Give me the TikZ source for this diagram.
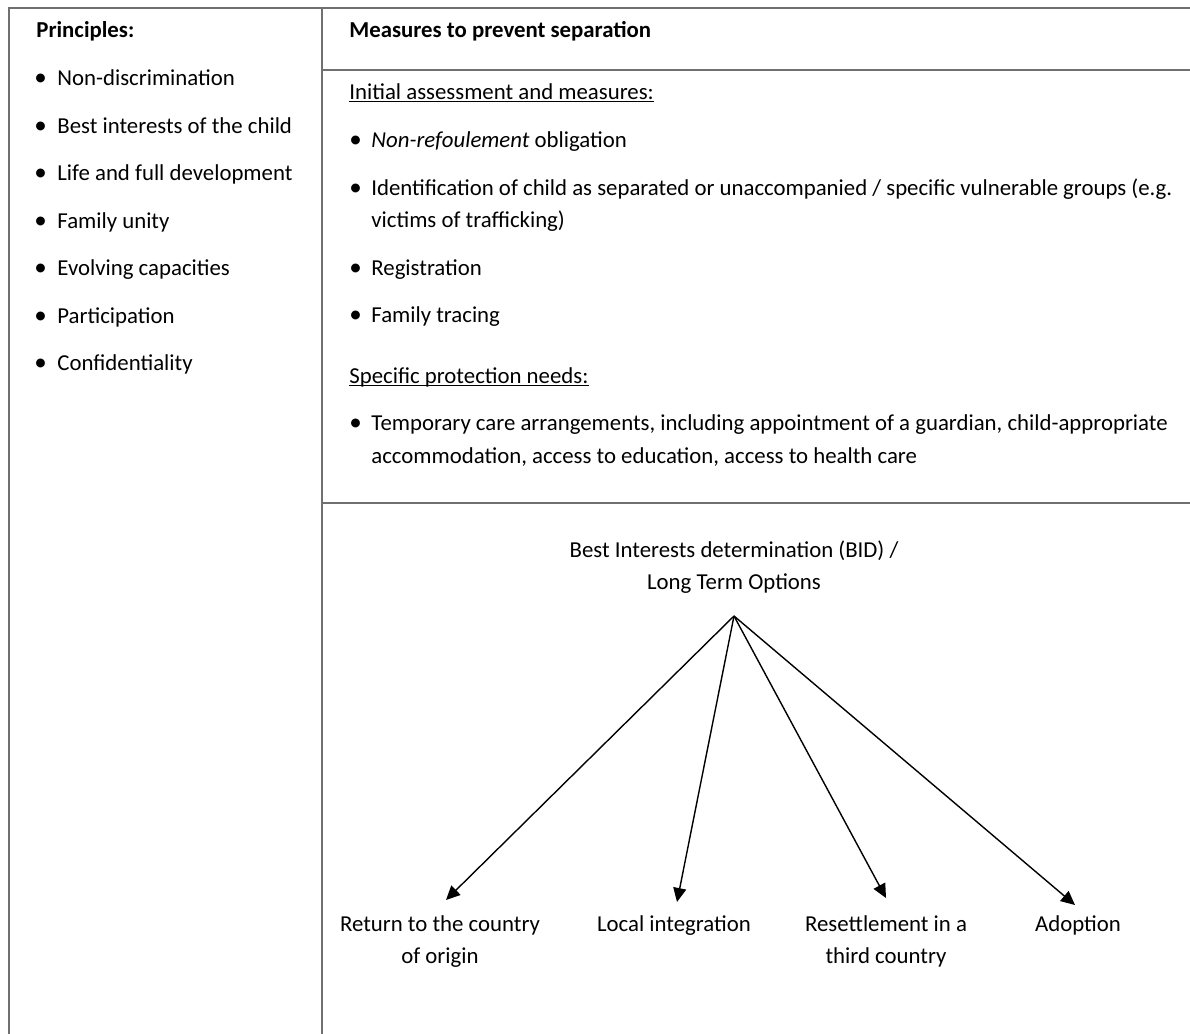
\documentclass[tikz,border=0pt]{standalone}
\usepackage{fontspec}
\setmainfont{Carlito}
\usetikzlibrary{arrows.meta}
\definecolor{rulegray}{RGB}{112,112,112}
\begin{document}
\begin{tikzpicture}[x=0.5pt,y=-0.5pt,
  txt/.style={inner sep=0pt, anchor=base west, font=\fontsize{11.4}{16}\selectfont},
  ctxt/.style={inner sep=0pt, anchor=base, font=\fontsize{11.4}{16}\selectfont},
  bul/.style={inner sep=0pt, anchor=base west, font=\fontsize{12.5}{16}\selectfont},
  tablerule/.style={draw=rulegray, line width=0.75pt},
  uline/.style={draw=black, line width=0.45pt},
  arr/.style={draw=black, line width=0.7pt, -{Triangle[length=7pt,width=6.5pt]}}]
\useasboundingbox (0,0) rectangle (1190,1034);
% table rules
\draw[tablerule] (9,1034) -- (9,8) -- (1190,8);
\draw[tablerule] (322,8) -- (322,1034);
\draw[tablerule] (322,70) -- (1190,70);
\draw[tablerule] (322,503) -- (1190,503);
% left column
\node[txt] (ph) at (36,37) {\bfseries Principles:};
\node[bul] (lb1) at (34,85) {\textbullet};
\node[txt] (l1) at (57,85) {Non-discrimination};
\node[bul] (lb2) at (34,133) {\textbullet};
\node[txt] (l2) at (57,133) {Best interests of the child};
\node[bul] (lb3) at (34,180) {\textbullet};
\node[txt] (l3) at (57,180) {Life and full development};
\node[bul] (lb4) at (34,228) {\textbullet};
\node[txt] (l4) at (57,228) {Family unity};
\node[bul] (lb5) at (34,275) {\textbullet};
\node[txt] (l5) at (57,275) {Evolving capacities};
\node[bul] (lb6) at (34,323) {\textbullet};
\node[txt] (l6) at (57,323) {Participation};
\node[bul] (lb7) at (34,370) {\textbullet};
\node[txt] (l7) at (57,370) {Confidentiality};
% right column
\node[txt] (mh) at (349,37) {\bfseries Measures to prevent separation};
\node[txt] (ia) at (349,99) {Initial assessment and measures:};
\draw[uline] ([yshift=-1.3pt]ia.base west) -- ([yshift=-1.3pt]ia.base east);
\node[bul] (rb1) at (349,147) {\textbullet};
\node[txt] (r1) at (371,147) {\textit{Non-refoulement} obligation};
\node[bul] (rb2) at (349,195) {\textbullet};
\node[txt] (r2a) at (371,195) {Identification of child as separated or unaccompanied / specific vulnerable groups (e.g.};
\node[txt] (r2b) at (371,227) {victims of trafficking)};
\node[bul] (rb3) at (349,275) {\textbullet};
\node[txt] (r3) at (371,275) {Registration};
\node[bul] (rb4) at (349,322) {\textbullet};
\node[txt] (r4) at (371,322) {Family tracing};
\node[txt] (sp) at (349,383) {Specific protection needs:};
\draw[uline] ([yshift=-1.3pt]sp.base west) -- ([yshift=-1.3pt]sp.base east);
\node[bul] (rb5) at (349,430) {\textbullet};
\node[txt] (r5a) at (371,430) {Temporary care arrangements, including appointment of a guardian, child-appropriate};
\node[txt] (r5b) at (371,463) {accommodation, access to education, access to health care};
% BID diagram
\node[ctxt] (bida) at (734,557) {Best Interests determination (BID) /};
\node[ctxt] (bidb) at (734,589) {Long Term Options};
\coordinate (apex) at (734,616);
\node[ctxt] (o1a) at (440,931) {Return to the country};
\node[ctxt] (o1b) at (440,963) {of origin};
\node[ctxt] (o2) at (674,931) {Local integration};
\node[ctxt] (o3a) at (886,931) {Resettlement in a};
\node[ctxt] (o3b) at (886,963) {third country};
\node[ctxt] (o4) at (1078,931) {Adoption};
\coordinate (t1) at (446,900);
\coordinate (t2) at (677,902);
\coordinate (t3) at (886,898);
\coordinate (t4) at (1075,905);
\draw[arr] (apex) -- (t1);
\draw[arr] (apex) -- (t2);
\draw[arr] (apex) -- (t3);
\draw[arr] (apex) -- (t4);
\end{tikzpicture}
\end{document}
